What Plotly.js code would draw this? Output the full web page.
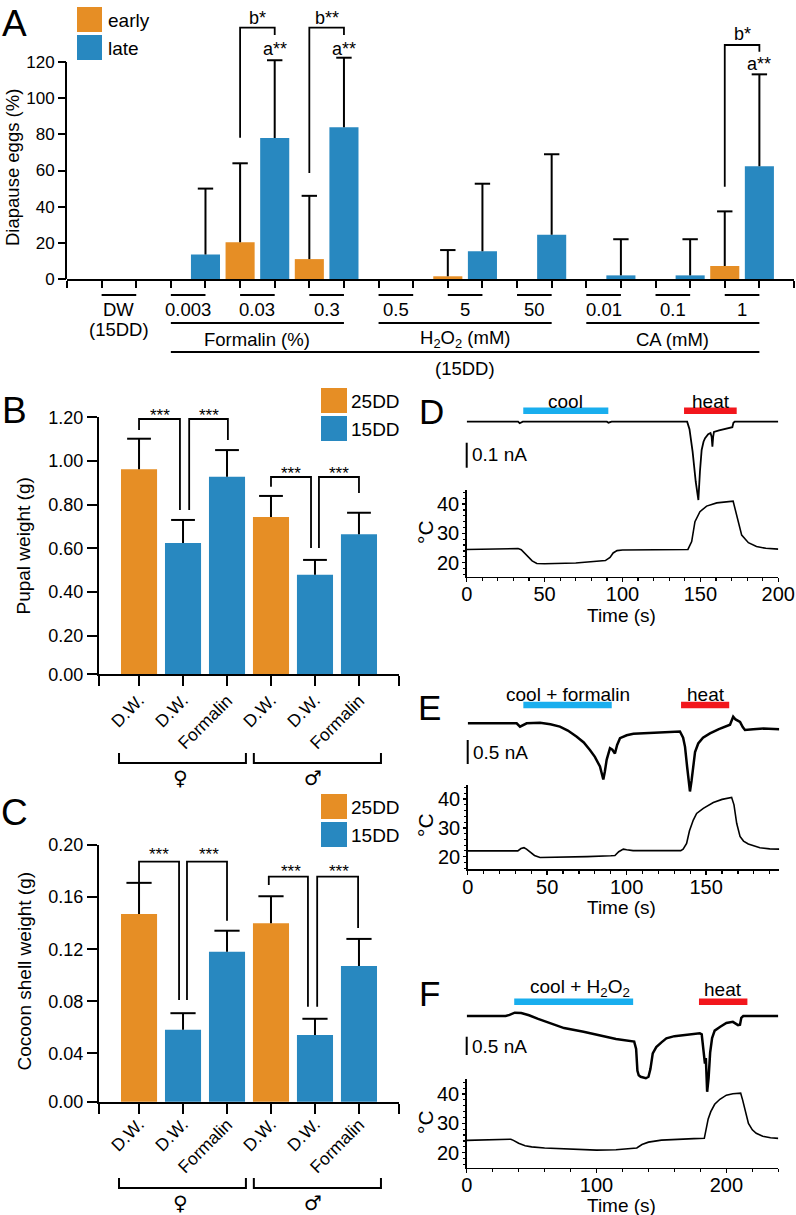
<!DOCTYPE html>
<html><head><meta charset="utf-8">
<script src="https://cdn.plot.ly/plotly-3.0.1.min.js"></script>
<style>html,body{margin:0;padding:0;background:#fff}#chart{width:796px;height:1215px}</style>
</head><body><div id="chart"></div>
<script>
// ---------- DATA ----------
// Panel A: diapause eggs (%)
const catsA = ['DW','0.003','0.03','0.3','0.5','5','50','0.01','0.1','1'];
const earlyA    = [0, 0, 20.3, 11.0, 0, 1.5, 0, 0, 0, 7.2];
const earlyErrA = [0, 0, 43.7, 35.0, 0, 14.5, 0, 0, 0, 30.2];
const lateA     = [0, 13.6, 78.0, 83.9, 0, 15.3, 24.5, 2.0, 2.0, 62.3];
const lateErrA  = [0, 36.4, 43.0, 38.5, 0, 37.4, 44.5, 20.0, 20.0, 50.9];
const groupsA   = ['Formalin (%)', 'H<sub>2</sub>O<sub>2</sub> (mM)', 'CA (mM)'];
const groupSpanA = [[1,3],[4,6],[7,9]];
const yTicksA = [0,20,40,60,80,100,120];

// Panels B, C
const labelsBC = ['D.W.','D.W.','Formalin','D.W.','D.W.','Formalin'];
const groupBC  = ['25DD','15DD','15DD','25DD','15DD','15DD'];
const pupalB    = [0.962, 0.625, 0.928, 0.744, 0.479, 0.664];
const pupalErrB = [0.140, 0.105, 0.122, 0.096, 0.068, 0.099];
const shellC    = [0.147, 0.058, 0.118, 0.140, 0.054, 0.107];
const shellErrC = [0.024, 0.0128, 0.0162, 0.0207, 0.0125, 0.0209];
const sexes = ['\u2640','\u2642'];

// Panel D
const tTempD = [0,33,35,38.5,42,45,50,70,89,92,94,96.5,100,142,144.4,146.5,149.7,154,160.5,171,173.9,176.5,180.8,186,192,200];
const tempD  = [24.5,24.8,24.4,22.6,20.6,19.7,19.6,19.9,20.7,21.8,23.3,24.1,24.3,24.5,27.2,34,37.4,39.3,40.4,41,34.5,29.4,26.8,25.5,24.9,24.6];
const tCurD = [0,33,34,36,90,91,93,141.5,143,145,147,148.7,149.7,150.8,152,153,155,156.5,157.2,157.7,158.2,158.7,162,166,170.5,171.2,172,200];
const curD  = [0,0,-0.006,0,0,-0.004,0,0,-0.03,-0.12,-0.24,-0.313,-0.2,-0.113,-0.08,-0.066,-0.05,-0.045,-0.06,-0.1,-0.06,-0.041,-0.035,-0.03,-0.022,-0.004,0,0];
const stimD = {cool:[36.3, 90.9], heat:[139.5, 173.3]};

// Panel E
const tTempE = [0,31.5,33.5,35.4,37,39.2,42,45.5,60,75,90,92.6,95,97.9,100,104,134,135.5,137.7,139.5,141.9,144,148.2,154.5,160,166,167.5,169.2,171.3,173.5,176.5,183.8,190,196];
const tempE  = [22.0,22.0,22.8,23.1,22.6,21.6,20.4,19.7,19.8,20.0,20.3,20.4,21.7,22.6,22.4,22.1,22.1,22.6,24.6,29,32.7,35,36.8,38.8,39.9,40.6,38,31.6,27,25.4,24.4,23.1,22.7,22.6];
const tCurE = [0,30.8,32.9,35,37.1,45.5,52,58,63,68.6,73,77,80,83.2,85.3,86.3,87.4,89.5,91,92.6,94,95.8,100,104.2,115,125,133.5,135.5,136.7,138,139.8,140.8,141.9,143,145,148,152.4,158,165,166,167,168.5,171.3,173,174.4,179.6,186,196];
const curE  = [0,0,-0.07,-0.03,0,0.01,-0.02,-0.07,-0.15,-0.28,-0.4,-0.56,-0.7,-0.9,-1.17,-1.0,-0.76,-0.52,-0.55,-0.63,-0.45,-0.31,-0.25,-0.22,-0.2,-0.18,-0.17,-0.3,-0.49,-0.9,-1.42,-1.2,-0.83,-0.6,-0.42,-0.3,-0.21,-0.12,-0.03,0.05,0.14,0.08,0.03,-0.08,-0.14,-0.125,-0.11,-0.125];
const stimE = {cool:[35, 90.6], heat:[134.2, 164.5]};

// Panel F
const tTempF = [0,20,34,36,40,45,50,60,75,90,100,115,128,131,135,140,150,160,175,183,184.5,186,188,191,195,200,205,211,212.5,215,217,220,223,228,234,240];
const tempF  = [24.2,24.3,24.6,24.2,23.2,22.4,22.0,21.6,21.3,21.0,20.9,21.0,21.3,21.6,22.8,23.6,24.3,24.6,24.8,24.9,28,31.5,34,36.5,38.2,39.6,40.1,40.3,38,33.5,30,27.8,26.6,25.6,25.1,24.9];
const tCurF = [0,30,33,37,42,48,55,64,75,90,105,115,129,130.5,131.5,132.5,134,136,138,140,141.5,143.3,146,150,153.8,160,170,179.5,181,182.5,183.5,184.2,185.2,186.3,187.5,189,191,195,200,205,207,209,210.5,211.5,213,240];
const curF  = [0,0,0.03,0.09,0.08,0.02,-0.08,-0.2,-0.33,-0.43,-0.55,-0.63,-0.7,-0.9,-1.5,-1.62,-1.66,-1.68,-1.7,-1.66,-1.45,-1.02,-0.85,-0.72,-0.61,-0.55,-0.5,-0.47,-0.5,-0.9,-1.3,-1.15,-2.07,-1.7,-1.0,-0.6,-0.4,-0.3,-0.19,-0.16,-0.2,-0.25,-0.24,-0.05,0,0];
const stimF = {cool:[36.6, 128.2], heat:[178.9, 216.2]};

// ---------- HELPERS ----------
const W = 796, H = 1215;
const PX = p => p / W;
const PY = p => 1 - p / H;
const FONT = 'Arial, "Liberation Sans", sans-serif';
const SYMFONT = '"DejaVu Sans", sans-serif';
const ORANGE = '#E68E25', BLUE = '#2888C0', COOL = '#19AEEE', HEAT = '#F2161C';

const traces = [];
const shapes = [];
const annotations = [];

function ann(text, x, y, o) {
  annotations.push(Object.assign({text: text, x: x, y: y, xref: 'paper', yref: 'paper',
    showarrow: false, xanchor: 'center', yanchor: 'middle', font: {size: 18, color: '#000', family: FONT}}, o || {}));
}
function line(xref, yref, x0, y0, x1, y1, w, c) {
  shapes.push({type: 'line', xref: xref, yref: yref, x0: x0, y0: y0, x1: x1, y1: y1, line: {color: c || '#000', width: w || 2}});
}
function rect(x0, y0, x1, y1, c) {
  shapes.push({type: 'rect', xref: 'paper', yref: 'paper', x0: PX(x0), x1: PX(x1), y0: PY(y1), y1: PY(y0), fillcolor: c, line: {width: 0}});
}
function bracket(xref, xL, yLbot, xR, yRbot, yTop, w) {
  shapes.push({type: 'path', xref: xref, yref: 'paper',
    path: 'M' + xL + ',' + PY(yLbot) + ' L' + xL + ',' + PY(yTop) + ' L' + xR + ',' + PY(yTop) + ' L' + xR + ',' + PY(yRbot),
    line: {color: '#000', width: w || 1.8}});
}
const zeros = n => new Array(n).fill(0);

// bars with one-sided error stems (no cap at bar top) + top caps as markers
function barWithErr(x, y, err, color, width, capSize, xa, ya) {
  traces.push({type: 'bar', x: x, y: y, width: width, marker: {color: color},
    error_y: {type: 'data', symmetric: false, array: err, arrayminus: zeros(err.length), color: '#000', thickness: 2, width: 0, visible: true},
    xaxis: xa, yaxis: ya, hoverinfo: 'skip', showlegend: false});
  const idx = err.map((e, i) => e > 0 ? i : -1).filter(i => i >= 0);
  traces.push({type: 'scatter', mode: 'markers', x: idx.map(i => x[i]), y: idx.map(i => y[i] + err[i]),
    marker: {symbol: 'line-ew', size: capSize, color: '#000', line: {color: '#000', width: 2}},
    xaxis: xa, yaxis: ya, hoverinfo: 'skip', showlegend: false, cliponaxis: false});
}

// ---------- PANEL A ----------
const posEarly = catsA.map((c, i) => 2 * i + 1);
const posLate  = catsA.map((c, i) => 2 * i + 2);
barWithErr(posEarly, earlyA, earlyErrA, ORANGE, 0.84, 11, 'x', 'y');
barWithErr(posLate, lateA, lateErrA, BLUE, 0.84, 11, 'x', 'y');

line('paper', 'y', PX(66), 0, PX(66), 120, 2);
rect(77, 7, 102, 32, ORANGE); rect(77, 35, 102, 60, BLUE);
ann('early', PX(106), PY(21), {xanchor: 'left', font: {size: 19, family: FONT, color: '#000'}});
ann('late', PX(106), PY(48), {xanchor: 'left', font: {size: 19, family: FONT, color: '#000'}});
bracket('x', 5, 137.7, 6, 35, 27.7);
bracket('x', 7, 173, 8, 35, 27.7);
bracket('x', 19, 186.7, 20, 51.7, 45);
const sigFont = {size: 18, family: FONT, color: '#000'};
ann('b*', 5.5, PY(18), {xref: 'x', font: sigFont});
ann('a**', 6, PY(49), {xref: 'x', font: sigFont});
ann('b**', 7.5, PY(18), {xref: 'x', font: sigFont});
ann('a**', 8, PY(49), {xref: 'x', font: sigFont});
ann('b*', 19.5, PY(34), {xref: 'x', font: sigFont});
ann('a**', 20, PY(64), {xref: 'x', font: sigFont});
const catFont = {size: 18.5, family: FONT, color: '#000'};
catsA.forEach((c, i) => {
  line('x', 'paper', posEarly[i], PY(295), posLate[i], PY(295), 2);
  ann(c, (posEarly[i] + posLate[i]) / 2, PY(310), {xref: 'x', font: catFont});
});
ann('(15DD)', (posEarly[0] + posLate[0]) / 2, PY(329), {xref: 'x', font: catFont});
groupsA.forEach((g, k) => {
  const a = posEarly[groupSpanA[k][0]], b = posLate[groupSpanA[k][1]];
  line('x', 'paper', a, PY(323), b, PY(323), 2);
  ann(g, (a + b) / 2, PY(339), {xref: 'x', font: catFont});
});
line('x', 'paper', posEarly[groupSpanA[0][0]], PY(352), posLate[groupSpanA[2][1]], PY(352), 2);
ann('(15DD)', (posEarly[groupSpanA[0][0]] + posLate[groupSpanA[2][1]]) / 2, PY(368), {xref: 'x', font: catFont});
ann('Diapause eggs (%)', PX(12), PY(168), {textangle: -90, font: {size: 18.5, family: FONT, color: '#000'}});
ann('A', PX(14), PY(23), {font: {size: 37, family: FONT, color: '#000'}});

// ---------- PANELS B and C ----------
function barsBC(vals, errs, xa, ya, capw) {
  ['25DD', '15DD'].forEach(g => {
    const idx = groupBC.map((v, i) => v === g ? i : -1).filter(i => i >= 0);
    barWithErr(idx, idx.map(i => vals[i]), idx.map(i => errs[i]), g === '25DD' ? ORANGE : BLUE, 0.82, capw, xa, ya);
  });
}
barsBC(pupalB, pupalErrB, 'x2', 'y2', 17);
barsBC(shellC, shellErrC, 'x3', 'y3', 18);

function panelBCextras(xref, sig, legTop, sexY, labTop) {
  sig.forEach(s => {
    bracket(xref, s[0], s[1], s[2], s[3], s[4]);
    ann('***', s[5], PY(s[6]), {xref: xref, font: {size: 17, family: FONT, color: '#000'}});
  });
  rect(321, legTop, 347, legTop + 25, ORANGE);
  rect(321, legTop + 28, 347, legTop + 53, BLUE);
  ann('25DD', PX(349), PY(legTop + 13), {xanchor: 'left', font: {size: 19, family: FONT, color: '#000'}});
  ann('15DD', PX(349), PY(legTop + 41), {xanchor: 'left', font: {size: 19, family: FONT, color: '#000'}});
  labelsBC.forEach((l, i) => {
    ann(l, i + 0.27, PY(labTop), {xref: xref, textangle: -45, xanchor: 'right', yanchor: 'top', font: {size: 17.5, family: FONT, color: '#000'}});
  });
  const spans = [[-0.455, 2.43], [2.61, 5.5]];
  spans.forEach((sp, k) => {
    shapes.push({type: 'path', xref: xref, yref: 'paper',
      path: 'M' + sp[0] + ',' + PY(sexY - 10) + ' L' + sp[0] + ',' + PY(sexY) + ' L' + sp[1] + ',' + PY(sexY) + ' L' + sp[1] + ',' + PY(sexY - 10),
      line: {color: '#000', width: 2}});
    ann(sexes[k], (k === 0 ? 0.95 : 3.95), PY(sexY + 15), {xref: xref, font: {size: 20, family: SYMFONT, color: '#000'}});
  });
}
panelBCextras('x2', [
  [0, 430, 0.93, 510, 419, 0.47, 416],
  [1.14, 510, 2.02, 440, 419, 1.59, 416],
  [3.0, 486.7, 3.91, 548, 477, 3.45, 473],
  [4.09, 548, 5.0, 493, 477, 4.55, 473]
], 388, 763, 688);
panelBCextras('x3', [
  [0, 883, 0.91, 1000, 861.7, 0.45, 854],
  [1.09, 1000, 2.0, 920.7, 861.7, 1.59, 854],
  [2.95, 885, 3.84, 1006.7, 876.7, 3.45, 871],
  [4.05, 1006.7, 4.98, 928, 876.7, 4.55, 871]
], 794, 1188, 1112);
ann('Pupal weight (g)', PX(23), PY(546.5), {textangle: -90, font: {size: 19, family: FONT, color: '#000'}});
ann('Cocoon shell weight (g)', PX(24), PY(971.5), {textangle: -90, font: {size: 19, family: FONT, color: '#000'}});
ann('B', PX(14), PY(410), {font: {size: 37, family: FONT, color: '#000'}});
ann('C', PX(14), PY(812), {font: {size: 37, family: FONT, color: '#000'}});

// ---------- PANELS D, E, F ----------
function tracePanel(tT, T, tI, I, xa, yT, yI, lwI) {
  traces.push({type: 'scatter', mode: 'lines', x: tT, y: T, line: {color: '#000', width: 1.6}, xaxis: xa, yaxis: yT, hoverinfo: 'skip', showlegend: false});
  traces.push({type: 'scatter', mode: 'lines', x: tI, y: I, line: {color: '#000', width: lwI}, xaxis: xa, yaxis: yI, hoverinfo: 'skip', showlegend: false});
}
tracePanel(tTempD, tempD, tCurD, curD, 'x4', 'y4', 'y5', 1.8);
tracePanel(tTempE, tempE, tCurE, curE, 'x5', 'y6', 'y7', 2.5);
tracePanel(tTempF, tempF, tCurF, curF, 'x6', 'y8', 'y9', 2.5);

function stimBars(xref, stim, yBar, coolText, coolX, coolY, heatX, heatY) {
  line(xref, 'paper', stim.cool[0], PY(yBar), stim.cool[1], PY(yBar), 6.5, COOL);
  line(xref, 'paper', stim.heat[0], PY(yBar), stim.heat[1], PY(yBar), 6.5, HEAT);
  ann(coolText, coolX, PY(coolY), {xref: xref, font: {size: 19, family: FONT, color: '#000'}});
  ann('heat', heatX, PY(heatY), {xref: xref, font: {size: 19, family: FONT, color: '#000'}});
}
stimBars('x4', stimD, 410.7, 'cool', 63.5, 402, 156.6, 401);
stimBars('x5', stimE, 705, 'cool + formalin', 63.3, 695, 149.7, 695);
stimBars('x6', stimF, 1001.7, 'cool + H<sub>2</sub>O<sub>2</sub>', 87.2, 988, 197.4, 989);

line('paper', 'y5', PX(466.7), -0.184, PX(466.7), -0.084, 2);
line('paper', 'y7', PX(467.7), -0.848, PX(467.7), -0.348, 2);
line('paper', 'y9', PX(466.7), -1.066, PX(466.7), -0.566, 2);
ann('0.1 nA', PX(470), PY(455), {xanchor: 'left', font: {size: 19, family: FONT, color: '#000'}});
ann('0.5 nA', PX(471), PY(752.5), {xanchor: 'left', font: {size: 19, family: FONT, color: '#000'}});
ann('0.5 nA', PX(470), PY(1046), {xanchor: 'left', font: {size: 19, family: FONT, color: '#000'}});

[['D', 431, 412], ['E', 430, 707], ['F', 429, 993]].forEach(l => ann(l[0], PX(l[1]), PY(l[2]), {font: {size: 35, family: FONT, color: '#000'}}));
[532, 825, 1122].forEach(y => ann('\u00B0C', PX(425), PY(y), {textangle: -90, font: {size: 21, family: FONT, color: '#000'}}));
[615, 907, 1205].forEach(y => ann('Time (s)', PX(621.7), PY(y), {font: {size: 19, family: FONT, color: '#000'}}));

// ---------- AXES ----------
const base = {showline: true, linecolor: '#000', linewidth: 2, ticks: 'outside', tickcolor: '#000', tickwidth: 2,
  showgrid: false, zeroline: false, fixedrange: true, tickfont: {size: 17, family: FONT, color: '#000'}};
function ax(o) { return Object.assign({}, base, o); }
const tFont = {size: 20, family: FONT, color: '#000'};
function tX(dom, range, anchor, dt, mdt) {
  return ax({domain: dom, range: range, anchor: anchor, linewidth: 1.5, tickwidth: 1.5, ticklen: 4, tick0: 0, dtick: dt,
    ticklabelstandoff: -5,
    minor: {ticks: 'outside', dtick: mdt, ticklen: 3, tickwidth: 1.2, tickcolor: '#000'}, tickfont: tFont});
}
function tY(dom, range, anchor) {
  return ax({domain: dom, range: range, anchor: anchor, linewidth: 1.5, tickwidth: 1.5, ticklen: 3, tick0: 0, dtick: 10,
    ticklabelstandoff: -1,
    minor: {ticks: 'outside', dtick: 2, ticklen: 2, tickwidth: 1.2, tickcolor: '#000'}, tickfont: tFont});
}
function hid(dom, range, anchor) { return {domain: dom, range: range, anchor: anchor, visible: false, fixedrange: true}; }

const tvB = [0.0233, 0.2, 0.4, 0.6, 0.8, 1.0, 1.2];
const ttB = ['0.00', '0.20', '0.40', '0.60', '0.80', '1.00', '1.20'];
const tvC = [0.0028, 0.04, 0.08, 0.12, 0.16, 0.2];
const ttC = ['0.00', '0.04', '0.08', '0.12', '0.16', '0.20'];
const xTickValsBC = [-0.909].concat(labelsBC.map((l, i) => i), [5.909]);

const layout = {
  width: W, height: H, autosize: false,
  margin: {l: 0, r: 0, t: 0, b: 0, pad: 0},
  paper_bgcolor: '#fff', plot_bgcolor: 'rgba(0,0,0,0)',
  font: {family: FONT, color: '#000'},
  barmode: 'overlay', hovermode: false, showlegend: false,
  xaxis: ax({domain: [PX(67), PX(794)], range: [0, 21], anchor: 'y', ticklen: 7, tick0: 0, dtick: 1, showticklabels: false}),
  yaxis: ax({domain: [PY(279), PY(51.2)], range: [0, 126], anchor: 'x', showline: false, ticklen: 8, tickvals: yTicksA, ticktext: yTicksA.map(String)}),
  xaxis2: ax({domain: [PX(99), PX(399)], range: [-0.91, 5.91], anchor: 'y2', ticklen: 10, tickvals: xTickValsBC, showticklabels: false}),
  yaxis2: ax({domain: [PY(674.3), PY(417.3)], range: [0.0232, 1.2001], anchor: 'x2', ticklen: 10, tickvals: tvB, ticktext: ttB, tickfont: {size: 18, family: FONT, color: '#000'}}),
  xaxis3: ax({domain: [PX(99), PX(399)], range: [-0.91, 5.91], anchor: 'y3', ticklen: 10, tickvals: xTickValsBC, showticklabels: false}),
  yaxis3: ax({domain: [PY(1101.7), PY(845)], range: [0.00275, 0.2001], anchor: 'x3', ticklen: 10, tickvals: tvC, ticktext: ttC, tickfont: {size: 18, family: FONT, color: '#000'}}),
  xaxis4: tX([PX(466.7), PX(778.3)], [0, 200], 'y4', 50, 10),
  yaxis4: tY([PY(576.7), PY(490)], [15.2, 44.8], 'x4'),
  yaxis5: hid([PY(505), PY(412)], [-0.333, 0.0388], 'x4'),
  xaxis5: tX([PX(467.7), PX(779.3)], [0, 196], 'y6', 50, 10),
  yaxis6: tY([PY(869.3), PY(785)], [15.6, 44.9], 'x5'),
  yaxis7: hid([PY(800), PY(710)], [-1.598, 0.277], 'x5'),
  xaxis6: tX([PX(466.7), PX(778.3)], [0, 240], 'y8', 100, 20),
  yaxis8: tY([PY(1167.7), PY(1079.3)], [14.9, 45.0], 'x6'),
  yaxis9: hid([PY(1100), PY(995)], [-2.295, 0.574], 'x6'),
  shapes: shapes,
  annotations: annotations
};

Plotly.newPlot('chart', traces, layout, {displayModeBar: false, staticPlot: true});
</script></body></html>
